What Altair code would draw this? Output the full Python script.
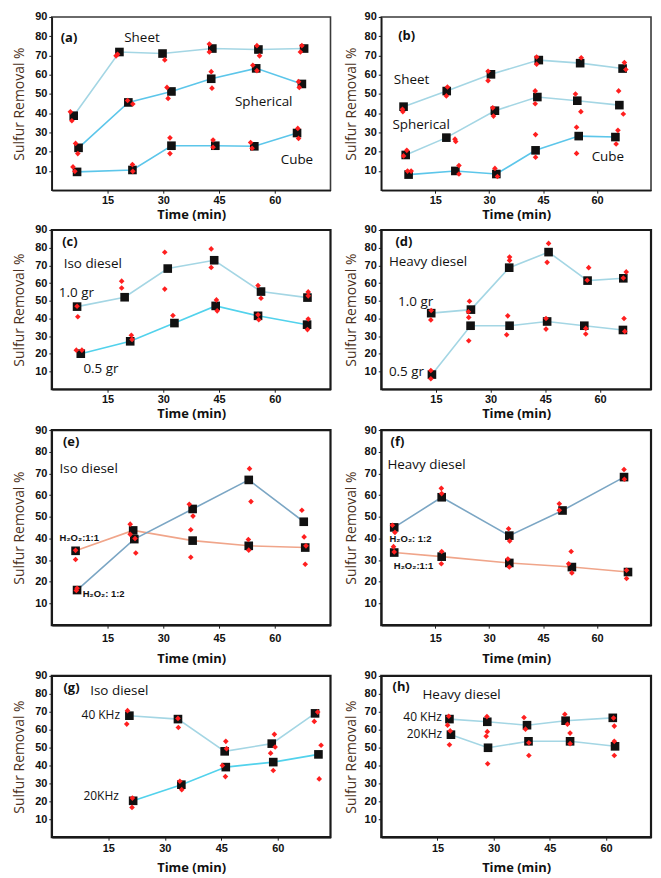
import altair as alt
import pandas as pd

# ---------------- data (time in min, sulfur removal in %) ----------------
# (a) catalyst morphology
A_SHEET = [(5.9, 38.7), (18.2, 71.8), (29.8, 71.0), (43.2, 73.6), (55.6, 73.1), (67.9, 73.6)]
A_SHEET_REP = [(5.0, 40.7), (5.4, 36.1), (17.3, 69.8), (17.7, 70.6), (30.4, 67.7), (42.4, 75.9),
               (42.4, 71.8), (55.2, 75.1), (55.9, 69.8), (67.3, 75.1), (66.9, 71.8)]
A_SPH = [(7.2, 22.0), (20.6, 45.6), (32.2, 51.3), (42.9, 57.9), (55.0, 63.3), (67.3, 55.2)]
A_SPH_REP = [(6.4, 24.3), (7.0, 19.0), (20.4, 46.6), (21.8, 44.8), (31.0, 53.4), (31.3, 47.7),
             (42.9, 61.6), (43.1, 53.0), (54.1, 64.9), (55.2, 62.1), (66.4, 56.4), (66.6, 53.4)]
A_CUBE = [(6.8, 9.5), (21.7, 10.5), (32.2, 23.1), (44.0, 23.1), (54.5, 22.8), (66.0, 29.7)]
A_CUBE_REP = [(5.7, 12.1), (6.2, 9.8), (21.7, 13.3), (21.8, 9.8), (31.8, 27.2), (31.8, 19.0),
              (43.4, 26.1), (43.4, 22.3), (53.5, 24.8), (53.9, 21.8), (66.2, 32.1), (66.4, 26.9)]

# (b)
B_SHEET = [(6.2, 43.4), (18.2, 51.5), (30.5, 60.2), (43.8, 67.6), (55.3, 66.0), (67.1, 63.2)]
B_SHEET_REP = [(6.0, 40.8), (5.9, 42.0), (18.4, 53.6), (18.1, 49.0), (29.7, 61.8), (29.7, 56.9),
               (43.2, 69.2), (43.2, 65.5), (55.6, 68.8), (67.6, 66.3), (68.0, 62.7)]
B_SPH = [(6.8, 18.3), (18.1, 27.3), (31.6, 41.3), (43.4, 48.4), (54.5, 46.5), (66.2, 44.2)]
B_SPH_REP = [(7.1, 20.7), (6.2, 17.8), (20.5, 26.5), (20.7, 25.3), (31.0, 42.8), (31.2, 38.5),
             (42.8, 51.6), (42.8, 44.9), (54.0, 50.0), (55.5, 40.8), (66.0, 51.6), (67.3, 39.6)]
B_CUBE = [(7.6, 8.1), (20.6, 10.0), (32.0, 8.4), (42.9, 20.7), (54.9, 28.1), (65.1, 27.6)]
B_CUBE_REP = [(7.3, 9.9), (8.3, 9.9), (21.6, 12.8), (21.6, 8.4), (31.6, 11.3), (32.3, 7.1),
              (42.9, 28.9), (42.9, 17.1), (54.3, 32.7), (54.3, 19.1), (65.8, 31.1), (65.3, 24.0)]

# (c) iso diesel, catalyst dose
C_10 = [(6.8, 46.7), (19.6, 52.0), (31.2, 68.2), (43.7, 72.9), (56.3, 55.2), (68.8, 51.8)]
C_10_REP = [(6.8, 46.9), (7.0, 41.0), (18.8, 61.1), (18.8, 57.2), (30.4, 77.4), (30.4, 56.6),
            (42.9, 79.3), (42.9, 68.8), (55.5, 58.6), (56.3, 51.4), (69.0, 55.0), (69.0, 52.8)]
C_05 = [(7.8, 20.1), (21.1, 27.1), (33.0, 37.4), (44.1, 47.1), (55.5, 41.5), (68.7, 36.5)]
C_05_REP = [(6.6, 22.1), (8.1, 22.1), (21.4, 30.5), (21.6, 28.1), (32.6, 41.7), (44.3, 50.5),
            (44.5, 44.3), (55.5, 42.1), (55.7, 39.3), (69.0, 39.7), (68.8, 33.7)]

# (d) heavy diesel, catalyst dose
D_10 = [(13.7, 43.0), (24.6, 45.0), (35.1, 68.7), (45.9, 77.5), (56.6, 61.4), (66.4, 62.7)]
D_10_REP = [(13.7, 44.5), (13.6, 39.2), (24.2, 49.7), (23.9, 43.8), (35.2, 74.7), (35.2, 72.8),
            (45.9, 82.4), (45.5, 71.7), (56.9, 68.7), (56.5, 61.6), (67.2, 66.3), (66.4, 62.9)]
D_05 = [(13.9, 8.3), (24.5, 35.9), (35.2, 35.9), (45.5, 38.3), (55.7, 35.9), (66.3, 33.5)]
D_05_REP = [(13.6, 10.6), (13.6, 5.9), (24.0, 27.4), (24.0, 40.6), (34.7, 41.5), (34.4, 30.8),
            (45.2, 40.0), (45.2, 34.0), (56.1, 34.4), (56.1, 31.2), (66.6, 40.0), (66.8, 32.7)]

# (e) iso diesel, oxidant ratio
E_11 = [(6.4, 34.3), (21.9, 43.7), (37.9, 39.0), (53.0, 36.6), (68.2, 35.8)]
E_11_REP = [(6.4, 34.5), (6.4, 30.3), (21.1, 46.6), (21.1, 41.9), (37.4, 31.3), (37.4, 44.0),
            (52.9, 39.5), (53.0, 34.6), (68.2, 28.1), (68.4, 36.6)]
E_12 = [(6.8, 16.2), (22.2, 39.7), (37.9, 53.6), (53.0, 67.0), (67.8, 47.7)]
E_12_REP = [(6.8, 17.0), (6.6, 16.0), (22.4, 40.0), (22.6, 33.3), (37.0, 55.8), (38.0, 50.3),
            (53.2, 72.2), (53.6, 57.0), (67.3, 53.0), (67.9, 40.7)]

# (f) heavy diesel, oxidant ratio
F_12 = [(3.6, 45.1), (16.8, 59.0), (35.6, 41.3), (50.4, 52.9), (67.5, 68.3)]
F_12_REP = [(3.1, 46.1), (3.8, 42.8), (16.7, 63.1), (16.8, 60.7), (35.4, 44.5), (35.7, 38.8),
            (49.5, 56.0), (49.5, 53.0), (67.5, 71.8), (67.6, 67.3)]
F_11 = [(3.6, 33.5), (16.8, 31.6), (35.6, 28.7), (53.0, 26.8), (68.6, 24.5)]
F_11_REP = [(3.4, 36.2), (3.6, 33.8), (16.8, 34.0), (16.7, 28.3), (35.2, 30.5), (35.6, 26.8),
            (52.1, 28.3), (52.8, 34.0), (53.0, 24.1), (68.2, 25.3), (68.2, 21.5)]

# (g) iso diesel, ultrasound frequency
G_40 = [(20.6, 67.8), (33.5, 65.9), (45.9, 47.9), (58.4, 52.2), (69.9, 69.1)]
G_40_REP = [(20.1, 70.6), (19.9, 63.1), (33.5, 66.3), (33.6, 61.2), (46.2, 53.5), (46.4, 49.4),
            (59.1, 57.4), (58.1, 46.9), (59.3, 50.3), (69.7, 64.6), (70.6, 69.8)]
G_20 = [(21.6, 20.3), (34.4, 29.3), (46.2, 39.1), (58.8, 41.9), (70.8, 46.2)]
G_20_REP = [(21.4, 21.8), (21.3, 16.6), (34.0, 31.2), (34.5, 26.5), (45.3, 40.0), (46.1, 33.8),
            (58.8, 37.2), (71.0, 32.5), (71.5, 51.3)]

# (h) heavy diesel, ultrasound frequency
H_40 = [(18.2, 65.9), (28.3, 64.4), (38.9, 62.5), (49.2, 65.0), (61.8, 66.6)]
H_40_REP = [(18.0, 67.5), (17.7, 62.5), (28.2, 67.3), (28.3, 58.9), (38.1, 66.8), (38.5, 60.3),
            (49.0, 68.6), (49.7, 63.0), (62.0, 66.5), (62.2, 62.0)]
H_20 = [(18.6, 57.2), (28.5, 49.9), (39.3, 53.5), (50.4, 53.5), (62.4, 50.7)]
H_20_REP = [(18.4, 59.3), (18.2, 51.6), (28.0, 56.3), (28.4, 41.0), (39.4, 52.7), (39.4, 45.6),
            (50.4, 58.1), (50.4, 52.2), (62.2, 53.5), (62.2, 45.6)]

# annotations (text, time, value)
A_LETTER = [("(a)", 2.4, 79)]
A_NAMES = [("Sheet", 19.5, 79), ("Spherical", 49.3, 46), ("Cube", 61.6, 15.7)]
B_LETTER = [("(b)", 4.7, 80.3)]
B_NAMES = [("Sheet", 3.5, 57), ("Spherical", 3.1, 34), ("Cube", 58.5, 17.4)]
C_LETTER = [("(c)", 2.8, 83.2)]
C_NAMES = [("Iso diesel", 3.2, 70.5), ("1.0 gr", 1.9, 54.4), ("0.5 gr", 8.5, 11.3)]
D_LETTER = [("(d)", 3.9, 83.2)]
D_NAMES = [("Heavy diesel", 2.1, 71.9), ("1.0 gr", 4.6, 49.4), ("0.5 gr", 2.1, 9.6)]
E_LETTER = [("(e)", 3.0, 84.5)]
E_NAMES = [("Iso diesel", 2.1, 72.2)]
E_SMALL = [("H₂O₂:1:1", 2.1, 40.0), ("H₂O₂: 1:2", 8.3, 14.3)]
F_LETTER = [("(f)", 2.6, 84.5)]
F_NAMES = [("Heavy diesel", 1.7, 74)]
F_SMALL = [("H₂O₂: 1:2", 2.3, 39.8), ("H₂O₂:1:1", 3.5, 27.5)]
G_LETTER = [("(g)", 3.1, 83.2)]
G_NAMES = [("Iso diesel", 10.2, 81.3)]
G_FREQ = [("40 KHz", 7.9, 68.1), ("20KHz", 8.4, 22.7)]
H_LETTER = [("(h)", 3.0, 84)]
H_NAMES = [("Heavy diesel", 11.0, 79.4)]
H_FREQ = [("40 KHz", 5.9, 67.0), ("20KHz", 6.8, 57.4)]

X_TICKS = [15, 30, 45, 60]
Y_TICKS = [10, 20, 30, 40, 50, 60, 70, 80, 90]

PALE = "#a4d6e4"
CYAN = "#5cc6ea"
BRIGHT = "#52d2ec"
STEEL = "#7ba6c4"
SALMON = "#f0a58a"
RED = "#ff1f1f"


def df(points):
    return pd.DataFrame(points, columns=["t", "v"])


def tdf(items):
    return pd.DataFrame(items, columns=["label", "t", "v"])


def panel(series, letter, names, small, xmax, width, height,
          ytp, xlp, xtp, frame=("#1a1a1a", 2.2), freq=None):
    X = alt.X("t:Q", scale=alt.Scale(domain=[0, xmax], nice=False, zero=False),
              axis=alt.Axis(values=X_TICKS, title="Time (min)",
                            labelPadding=xlp, titlePadding=xtp))
    Y = alt.Y("v:Q", scale=alt.Scale(domain=[0, 90], nice=False),
              axis=alt.Axis(values=Y_TICKS, title="Sulfur Removal %",
                            titlePadding=ytp, minExtent=18, maxExtent=18))
    layers = []
    for means, reps, color in series:
        layers.append(alt.Chart(df(means)).mark_line(color=color, strokeWidth=1.6)
                      .encode(x=X, y=Y))
    for means, reps, color in series:
        layers.append(alt.Chart(df(means)).mark_point(shape="square", filled=True,
                                                       color="#111111", size=75, opacity=1)
                      .encode(x=X, y=Y))
    for means, reps, color in series:
        layers.append(alt.Chart(df(reps)).mark_point(shape="diamond", filled=True,
                                                      color=RED, size=32, opacity=1)
                      .encode(x=X, y=Y))
    layers.append(alt.Chart(tdf(letter)).mark_text(
        align="left", baseline="middle", font="Open Sans", fontSize=13,
        fontWeight="bold", color="#111111").encode(x=X, y=Y, text="label:N"))
    layers.append(alt.Chart(tdf(names)).mark_text(
        align="left", baseline="middle", font="Open Sans", fontSize=13.5,
        color="#111111").encode(x=X, y=Y, text="label:N"))
    if freq:
        layers.append(alt.Chart(tdf(freq)).mark_text(
            align="left", baseline="middle", font="Open Sans", fontSize=12,
            color="#111111").encode(x=X, y=Y, text="label:N"))
    if small:
        layers.append(alt.Chart(tdf(small)).mark_text(
            align="left", baseline="middle", font="Liberation Sans", fontSize=9.5,
            fontWeight="bold", color="#111111").encode(x=X, y=Y, text="label:N"))
    return alt.layer(*layers).properties(
        width=width, height=height,
        view=alt.ViewConfig(stroke=frame[0], strokeWidth=frame[1]))


LW = 280   # left column plot width
RW = 271   # right column plot width
LTP = 7    # y-title padding, left column
RTP = 5    # y-title padding, right column
THIN = ("#3a3a3a", 1.6)

pa = panel([(A_SHEET, A_SHEET_REP, PALE), (A_SPH, A_SPH_REP, CYAN), (A_CUBE, A_CUBE_REP, CYAN)],
           A_LETTER, A_NAMES, None, 75, LW, 174, LTP, 1, 3, THIN)
pb = panel([(B_SHEET, B_SHEET_REP, PALE), (B_SPH, B_SPH_REP, PALE), (B_CUBE, B_CUBE_REP, CYAN)],
           B_LETTER, B_NAMES, None, 75, RW, 174, RTP, 1, 3, THIN)
pc = panel([(C_10, C_10_REP, PALE), (C_05, C_05_REP, BRIGHT)],
           C_LETTER, C_NAMES, None, 75, LW, 160, LTP, 1, 3)
pd_ = panel([(D_10, D_10_REP, PALE), (D_05, D_05_REP, PALE)],
            D_LETTER, D_NAMES, None, 74, RW, 160, RTP, 1, 3)
pe = panel([(E_11, E_11_REP, SALMON), (E_12, E_12_REP, STEEL)],
           E_LETTER, E_NAMES, E_SMALL, 75, LW, 196, LTP, 4, 10)
pf = panel([(F_12, F_12_REP, STEEL), (F_11, F_11_REP, SALMON)],
           F_LETTER, F_NAMES, F_SMALL, 75, RW, 196, RTP, 4, 10)
pg = panel([(G_40, G_40_REP, PALE), (G_20, G_20_REP, BRIGHT)],
           G_LETTER, G_NAMES, None, 74, LW, 162, LTP, 2, 8, freq=G_FREQ)
ph = panel([(H_40, H_40_REP, PALE), (H_20, H_20_REP, PALE)],
           H_LETTER, H_NAMES, None, 72, RW, 162, RTP, 2, 8, freq=H_FREQ)

chart = alt.concat(
    pa, pb, pc, pd_, pe, pf, pg, ph,
    columns=2, spacing={"row": 0, "column": 10}, align="each",
).properties(padding={"left": 3, "top": 0, "right": 0, "bottom": 0}).configure_axis(
    grid=False, domainColor="#1a1a1a", domainWidth=1.5, tickColor="#1a1a1a",
    tickSize=3, labelFont="Liberation Sans", labelFontWeight="bold",
    labelFontSize=11, labelColor="#111111", titleFont="Open Sans",
).configure_axisX(
    titleFontSize=13, titleFontWeight="bold", titleColor="#111111",
).configure_axisY(
    titleFontSize=14, titleFontWeight="normal", titleColor="#4a3020",
)

chart.save("out.html", embed_options={"renderer": "svg", "actions": False})
